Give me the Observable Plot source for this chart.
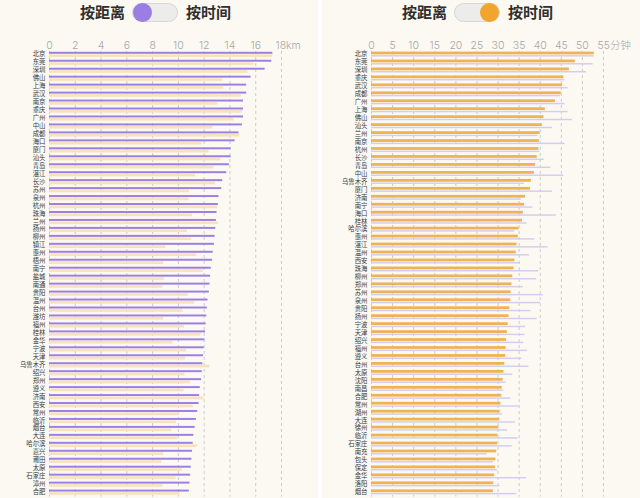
<!DOCTYPE html>
<html><head><meta charset="utf-8">
<script src="https://cdn.jsdelivr.net/npm/d3@7"></script>
<script src="https://cdn.jsdelivr.net/npm/@observablehq/plot@0.6"></script>
<style>
html,body{margin:0;padding:0;overflow:hidden;background:#ffffff;}
#wrap{position:relative;width:640px;height:498px;}
.panel{position:absolute;top:0;width:318px;height:498px;background:#fbf9f2;overflow:hidden;}
.head{position:absolute;top:0;left:0;width:318px;height:30px;font-family:"Noto Sans CJK SC",sans-serif;}
.t{position:absolute;top:1px;font-size:15px;font-weight:700;color:#2e2e2e;line-height:22px;}
.pill{position:absolute;left:132px;top:3px;width:44px;height:17px;border-radius:10px;background:#ececea;border:1px solid #d6d6d4;}
.knob{position:absolute;top:-1px;width:19px;height:19px;border-radius:50%;}
.plot{position:absolute;top:30px;left:0;}
</style>
</head><body>
<div id="wrap">
  <div class="panel" id="p1" style="left:0">
    <div class="head"><span class="t" style="left:80px">按距离</span><div class="pill"><div class="knob" style="left:0;background:#9a7ee3"></div></div><span class="t" style="left:186px">按时间</span></div>
    <div class="plot" id="c1"></div>
  </div>
  <div class="panel" id="p2" style="left:322px">
    <div class="head"><span class="t" style="left:80px">按距离</span><div class="pill"><div class="knob" style="left:25px;background:#f2a52e"></div></div><span class="t" style="left:186px">按时间</span></div>
    <div class="plot" id="c2"></div>
  </div>
</div>
<script>
// union of cities: distance (km) and time (minutes)
const cities = ["北京","东莞","深圳","佛山","上海","武汉","南京","重庆","广州","中山","成都","海口","厦门","汕头","青岛","湛江","长沙","苏州","泉州","杭州","珠海","兰州","扬州","柳州","镇江","惠州","梧州","南宁","盐城","南通","贵阳","温州","台州","潍坊","福州","桂林","金华","宁波","天津","乌鲁木齐","绍兴","郑州","遵义","济南","西安","常州","临沂","烟台","大连","哈尔滨","嘉兴","莆田","太原","石家庄","漳州","合肥","沈阳","南昌","湖州","徐州","南充","包头","保定","洛阳"];
const km = [17.33,17.25,16.73,15.64,15.3,15.3,15.05,15.05,15.05,14.97,14.7,14.4,14.09,14.09,13.96,13.75,13.44,13.36,13.15,13.1,13.0,12.95,12.9,12.85,12.8,12.7,12.65,12.55,12.5,12.45,12.4,12.3,12.25,12.2,12.15,12.1,12.05,12.0,11.95,11.9,11.85,11.8,11.7,11.65,11.6,11.5,11.4,11.3,11.2,11.15,11.1,11.05,11.0,10.95,10.9,10.85,10.5,10.3,10.2,10.6,9.0,9.5,9.8,10.0];
const minutes = [52.8,48.3,46.9,40.9,41.2,45.3,39.8,45.6,43.6,38.6,45.0,36.0,37.7,40.5,38.9,34.5,39.3,33.1,33.0,39.7,33.8,40.0,32.6,33.5,27.5,34.8,27.0,36.3,27.2,26.8,32.8,34.3,31.6,27.0,31.9,35.8,29.2,32.4,32.2,37.9,32.0,33.3,31.8,36.5,34.0,30.7,30.0,28.9,30.4,35.0,27.0,26.5,31.4,29.9,26.8,30.9,31.2,31.0,30.5,30.2,29.7,29.5,29.4,29.0];
const distOrder = ["北京","东莞","深圳","佛山","上海","武汉","南京","重庆","广州","中山","成都","海口","厦门","汕头","青岛","湛江","长沙","苏州","泉州","杭州","珠海","兰州","扬州","柳州","镇江","惠州","梧州","南宁","盐城","南通","贵阳","温州","台州","潍坊","福州","桂林","金华","宁波","天津","乌鲁木齐","绍兴","郑州","遵义","济南","西安","常州","临沂","烟台","大连","哈尔滨","嘉兴","莆田","太原","石家庄","漳州","合肥"];
const timeOrder = ["北京","东莞","深圳","重庆","武汉","成都","广州","上海","佛山","汕头","兰州","南京","杭州","长沙","青岛","中山","乌鲁木齐","厦门","济南","南宁","海口","桂林","哈尔滨","惠州","湛江","温州","西安","珠海","柳州","郑州","苏州","泉州","贵阳","扬州","宁波","天津","绍兴","福州","遵义","台州","太原","沈阳","南昌","合肥","常州","湖州","大连","徐州","临沂","石家庄","南充","包头","保定","金华","洛阳","烟台"];
const distTicks = [0,2,4,6,8,10,12,14,16,18];
const timeTicks = [0,5,10,15,20,25,30,35,40,45,50,55];

(function(){
const table = cities.map((c,i)=>({city:c, km:km[i], min:minutes[i]}));
const byName = new Map(table.map(d=>[d.city,d]));
const ratio = d3.max(km)/d3.max(minutes);

const W = 318, H = 468, step = 7.96, mTop = 21;
const fontCJK = "Noto Sans CJK SC, sans-serif";

function panel({order, primary, secondary, pColor, sColor, ticks, unit, pInset, sInset}) {
  const rows = order.map(c=>byName.get(c));
  const last = ticks[ticks.length-1];
  return Plot.plot({
    width: W, height: H,
    marginLeft: 49, marginRight: 37, marginTop: mTop, marginBottom: H - mTop - step*order.length,
    style: {background: "transparent", fontFamily: fontCJK},
    x: {domain: [0, last], axis: null},
    y: {type: "band", domain: order, padding: 0, axis: null},
    marks: [
      Plot.ruleX(ticks, {x: d=>d, stroke: "#cbcbcb", strokeWidth: 1, strokeDasharray: "3,3"}),
      Plot.barX(rows, {x: secondary, y: "city", fill: sColor, insetTop: sInset[0], insetBottom: sInset[1]}),
      Plot.barX(rows, {x: primary, y: "city", fill: pColor, insetTop: pInset[0], insetBottom: pInset[1]}),
      Plot.text(rows, {x: 0, y: "city", text: "city", textAnchor: "end", dx: -4, dy: -1.2, fontSize: 6.4, fill: "#3a3a3a"}),
      Plot.text(ticks.slice(0,-1), {x: d=>d, text: d=>String(d), frameAnchor: "top", dy: -10, fontSize: 10.5, fill: "#a6a6a6", fontFamily: "Inter, sans-serif", fontWeight: 300}),
      Plot.text([last], {x: d=>d, text: d=>d + unit, frameAnchor: "top", dy: -10, dx: -6, textAnchor: "start", fontSize: 10.5, fill: "#a6a6a6", fontFamily: "Inter, Noto Sans CJK SC, sans-serif", fontWeight: 300})
    ]
  });
}

document.getElementById("c1").append(panel({
  order: distOrder, primary: d=>d.km, secondary: d=>d.min*ratio,
  pColor: "#9b7fe1", sColor: "#f9e1be", ticks: distTicks, unit: "km",
  pInset: [0.8, 5.2], sInset: [3.3, 2.0]
}));
document.getElementById("c2").append(panel({
  order: timeOrder, primary: d=>d.min, secondary: d=>d.km/ratio,
  pColor: "#efb255", sColor: "#d3cdf1", ticks: timeTicks, unit: "分钟",
  pInset: [0.6, 4.6], sInset: [4.1, 2.4]
}));
})();
</script>
</body></html>
